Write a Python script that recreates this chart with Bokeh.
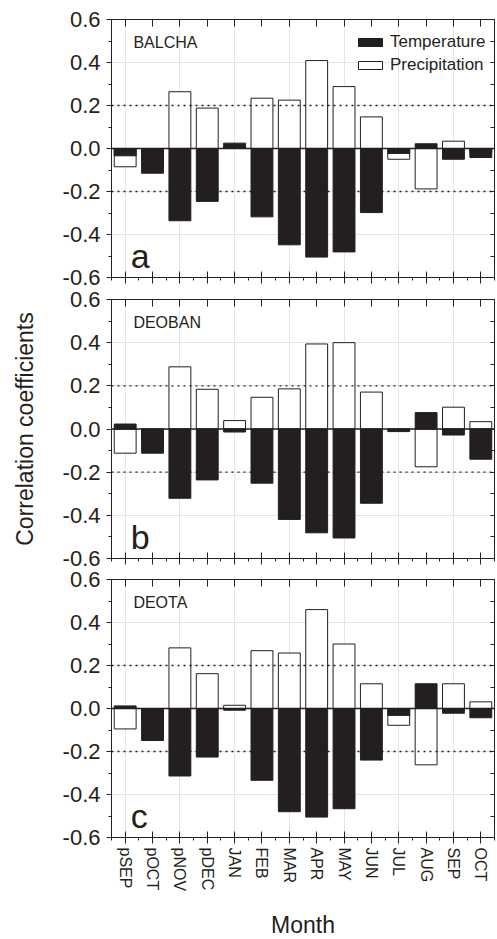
from bokeh.plotting import figure
from bokeh.layouts import column
from bokeh.models import (Range1d, LinearAxis, FixedTicker, PrintfTickFormatter,
                          Span, Label, Legend, LegendItem)
from bokeh.embed import file_html
from bokeh.resources import INLINE

months = ["pSEP", "pOCT", "pNOV", "pDEC", "JAN", "FEB", "MAR", "APR",
          "MAY", "JUN", "JUL", "AUG", "SEP", "OCT"]
stations = ["BALCHA", "DEOBAN", "DEOTA"]
letters = ["a", "b", "c"]

temp_balcha = [-0.034, -0.115, -0.336, -0.246, 0.025, -0.318, -0.448, -0.505,
               -0.481, -0.298, -0.023, 0.022, -0.050, -0.042]
prec_balcha = [-0.085, -0.050, 0.264, 0.188, 0.012, 0.234, 0.225, 0.409,
               0.288, 0.147, -0.050, -0.188, 0.034, -0.020]

temp_deoban = [0.023, -0.112, -0.321, -0.236, -0.014, -0.251, -0.419, -0.481,
               -0.505, -0.344, -0.012, 0.076, -0.028, -0.140]
prec_deoban = [-0.112, -0.050, 0.288, 0.184, 0.039, 0.147, 0.186, 0.394,
               0.400, 0.171, -0.005, -0.175, 0.101, 0.034]

temp_deota = [0.012, -0.149, -0.314, -0.226, -0.008, -0.334, -0.480, -0.505,
              -0.466, -0.240, -0.032, 0.115, -0.022, -0.043]
prec_deota = [-0.095, -0.060, 0.282, 0.162, 0.015, 0.269, 0.258, 0.460,
              0.300, 0.115, -0.078, -0.262, 0.115, 0.031]

y_major = [-0.6, -0.4, -0.2, 0.0, 0.2, 0.4, 0.6]
y_minor = [-0.5, -0.3, -0.1, 0.1, 0.3, 0.5]
sig_levels = [-0.2, 0.2]

FONT = "Liberation Sans"
INK = "#231f20"
x_pos = list(range(len(months)))
x_minor = [i - 0.5 for i in range(len(months) + 1)]


def hide_labels(ax):
    ax.major_label_text_font_size = "0px"
    ax.major_label_text_color = None
    ax.major_label_text_alpha = 0
    ax.major_label_standoff = 0


def make_panel(station, letter, temp, prec, top_b, frame_h, bottom_b,
               is_bottom, show_legend, show_ylabel, pull_up):
    p = figure(frame_width=383, frame_height=frame_h,
               x_range=Range1d(-0.5, 13.5), y_range=Range1d(-0.6, 0.6),
               output_backend="svg", toolbar_location=None,
               x_axis_location=None, y_axis_location=None,
               min_border_left=111, min_border_right=3,
               min_border_top=top_b, min_border_bottom=bottom_b)
    p.outline_line_color = None
    p.background_fill_color = "white"
    p.border_fill_alpha = 0
    if pull_up:
        try:
            p.margin = (-pull_up, 0, 0, 0)
        except Exception:
            p.styles = {"margin-top": "-%dpx" % pull_up}

    # left axis
    la = LinearAxis(ticker=FixedTicker(ticks=y_major, minor_ticks=y_minor),
                    formatter=PrintfTickFormatter(format="%.1f"))
    la.major_tick_in = 0
    la.major_tick_out = 5
    la.minor_tick_in = 0
    la.minor_tick_out = 3
    la.major_label_standoff = 6
    la.major_label_text_font = FONT
    la.major_label_text_font_size = "22px"
    la.major_label_text_color = INK
    la.axis_line_color = INK
    la.major_tick_line_color = INK
    la.minor_tick_line_color = INK
    if show_ylabel:
        la.axis_label = "Correlation coefficients"
        la.axis_label_text_font = FONT
        la.axis_label_text_font_size = "23px"
        la.axis_label_text_font_style = "normal"
        la.axis_label_text_color = INK
        la.axis_label_standoff = 22
    p.add_layout(la, "left")

    # right axis (ticks only)
    ra = LinearAxis(ticker=FixedTicker(ticks=sorted(y_major + y_minor), minor_ticks=[]))
    ra.major_tick_in = 4
    ra.major_tick_out = 0
    hide_labels(ra)
    ra.axis_line_color = INK
    ra.major_tick_line_color = INK
    p.add_layout(ra, "right")

    # top axis (ticks only)
    ta = LinearAxis(ticker=FixedTicker(ticks=x_pos, minor_ticks=[]))
    ta.major_tick_in = 7
    ta.major_tick_out = 0
    hide_labels(ta)
    ta.axis_line_color = INK
    ta.major_tick_line_color = INK
    p.add_layout(ta, "above")

    # bottom axis
    ba = LinearAxis(ticker=FixedTicker(ticks=x_pos, minor_ticks=x_minor))
    ba.major_tick_in = 6
    ba.major_tick_out = 6
    ba.minor_tick_in = 0
    ba.minor_tick_out = 3
    ba.axis_line_color = INK
    ba.major_tick_line_color = INK
    ba.minor_tick_line_color = INK
    if is_bottom:
        ba.major_label_overrides = {i: m for i, m in enumerate(months)}
        ba.major_label_orientation = "vertical"
        ba.major_label_text_font = FONT
        ba.major_label_text_font_size = "16px"
        ba.major_label_text_color = INK
        ba.major_label_standoff = 4
        ba.axis_label = "Month"
        ba.axis_label_text_font = FONT
        ba.axis_label_text_font_size = "23px"
        ba.axis_label_text_font_style = "normal"
        ba.axis_label_text_color = INK
        ba.axis_label_standoff = 18
    else:
        hide_labels(ba)
    p.add_layout(ba, "below")

    # bars: precipitation first, temperature on top
    rp = p.vbar(x=x_pos, top=prec, bottom=0, width=0.8,
                fill_color="white", line_color=INK, line_width=1)
    rt = p.vbar(x=x_pos, top=temp, bottom=0, width=0.8,
                fill_color=INK, line_color=INK, line_width=1)

    for lv in sig_levels:
        p.add_layout(Span(location=lv, dimension="width", line_color=INK,
                          line_width=1.3, line_dash="2 4"))
    p.add_layout(Span(location=0, dimension="width", line_color=INK, line_width=1.5))

    p.add_layout(Label(x=0.3, y=0.495, text=station, text_baseline="middle",
                       text_font=FONT, text_font_size="16px", text_color=INK))
    p.add_layout(Label(x=0.2, y=-0.5, text=letter, text_baseline="alphabetic",
                       text_font=FONT, text_font_size="34px", text_color=INK))

    if show_legend:
        lg = Legend(items=[LegendItem(label="Temperature", renderers=[rt]),
                           LegendItem(label="Precipitation", renderers=[rp])],
                    location=(244, 202), margin=0, padding=0, spacing=3,
                    glyph_width=30, glyph_height=10, label_height=20,
                    label_standoff=5, label_text_font=FONT,
                    label_text_font_size="17px", label_text_color=INK,
                    border_line_alpha=0, background_fill_alpha=0)
        p.add_layout(lg)
    return p


# frames: a 19-277, b 299-558, c 579-837 (page px); neighbouring canvases overlap
pa = make_panel(stations[0], letters[0], temp_balcha, prec_balcha, 19, 258, 14,
                False, True, False, 0)
pb = make_panel(stations[1], letters[1], temp_deoban, prec_deoban, 14, 259, 14,
                False, False, True, 6)
pc = make_panel(stations[2], letters[2], temp_deota, prec_deota, 14, 258, 101,
                True, False, False, 7)

layout = column(pa, pb, pc, spacing=0)
open("out.html", "w").write(file_html(layout, INLINE))
